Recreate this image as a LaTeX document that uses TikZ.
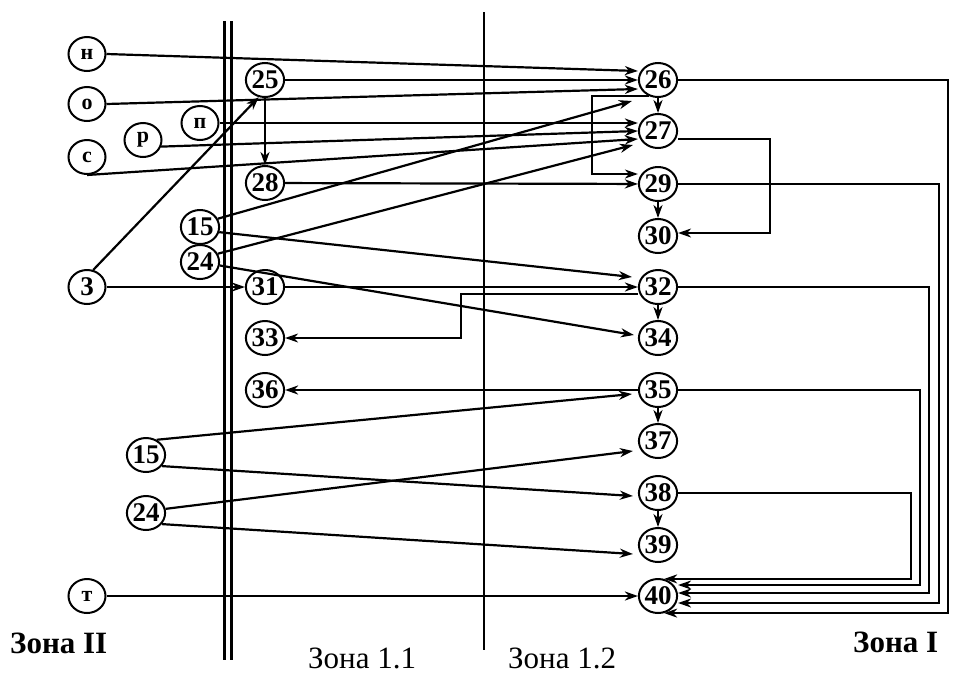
\documentclass[tikz,border=0pt]{standalone}
\usepackage{fontspec}
\setmainfont{Liberation Serif}
\usetikzlibrary{arrows.meta,shapes.geometric,calc}
\begin{document}
\begin{tikzpicture}[x=1pt,y=-1pt,
  nd/.style={draw,ellipse,line width=2pt,minimum width=37pt,minimum height=34pt,inner sep=0pt,font=\fontsize{27}{27}\selectfont\bfseries},
  ltr/.style={nd,font=\fontsize{22}{22}\selectfont\bfseries},
  arr/.style={line width=2.2pt,-{Stealth[length=13pt,width=9pt,inset=4pt]}},
  lp/.style={line width=1.6pt,-{Stealth[length=13pt,width=9pt,inset=4pt]}},
  zb/.style={font=\fontsize{31}{31}\selectfont\bfseries,anchor=base west,inner sep=0pt},
  zr/.style={font=\fontsize{31}{31}\selectfont,anchor=base west,inner sep=0pt}]
\useasboundingbox (0,0) rectangle (957,675);

% zone boundaries
\draw[line width=3pt] (224,21) -- (224,660);
\draw[line width=3pt] (231,21) -- (231,660);
\draw[line width=2.6pt] (484,12) -- (484,650);

% left nodes
\node[ltr] (nN) at (87,54) {н};
\node[ltr] (nO) at (87,104) {о};
\node[ltr] (nR) at (143,140) {р};
\node[ltr] (nP) at (200,123) {п};
\node[ltr] (nS) at (87,157) {с};
\node[nd] (n3) at (87,287) {3};
\node[nd] (a15) at (200,227) {15};
\node[nd] (a24) at (200,262) {24};
\node[nd] (b15) at (146,455) {15};
\node[nd] (b24) at (146,513) {24};
\node[ltr] (nT) at (87,596) {т};

% zone 1.1 nodes
\node[nd] (n25) at (265,80) {25};
\node[nd] (n28) at (265,183) {28};
\node[nd] (n31) at (265,287) {31};
\node[nd] (n33) at (265,338) {33};
\node[nd] (n36) at (265,390) {36};

% right column
\node[nd] (n26) at (658,80) {26};
\node[nd] (n27) at (658,131) {27};
\node[nd] (n29) at (658,184) {29};
\node[nd] (n30) at (658,236) {30};
\node[nd] (n32) at (658,287) {32};
\node[nd] (n34) at (658,338) {34};
\node[nd] (n35) at (658,390) {35};
\node[nd] (n37) at (658,441) {37};
\node[nd] (n38) at (658,493) {38};
\node[nd] (n39) at (658,545) {39};
\node[nd] (n40) at (658,596) {40};

% helper coordinates
\coordinate (k1) at (592,130);
\coordinate (k2) at (770,180);
\coordinate (k4) at (461,315);
\coordinate (r1) at (948,300);
\coordinate (r2) at (939,300);
\coordinate (r3) at (929,400);
\coordinate (r4) at (920,450);
\coordinate (r5) at (911,520);

% connectors into 26, 27
\draw[arr] (nN.east) -- ([yshift=9pt]n26.west);
\draw[arr] (n25) -- (n26);
\draw[arr] (nO.east) -- ([yshift=-9pt]n26.west);
\draw[arr] (a15.25) -- ([xshift=-6pt,yshift=-21pt]n26.west);
\draw[arr] (nP.east) -- ([yshift=8pt]n27.west);
\draw[arr] (nR.-20) -- (n27.west);
\draw[arr] (nS.south) -- ([yshift=-8pt]n27.west);
\draw[arr] (a24.25) -- ([xshift=-5pt,yshift=-14pt]n27.west);
\draw[arr] (n25) -- (n28);
\draw[arr] (n3.70) -- (n25.250);
\draw[arr] (n28) -- (n29);
\draw[lp] (n26.240) -| (k1) |- ([yshift=10pt]n29.west);
\draw[arr] (n26) -- (n27);
\draw[arr] (n29) -- (n30);
\draw[lp] ([yshift=-8pt]n27.east) -| (k2) |- ([yshift=3pt]n30.east);

% middle
\draw[arr] (n3) -- (n31);
\draw[arr] (n31) -- (n32);
\draw[arr] (a15.-15) -- ([xshift=-6pt,yshift=10pt]n32.west);
\draw[arr] (a24.-10) -- ([xshift=-4pt,yshift=3pt]n34.west);
\draw[lp] ([yshift=-7pt]n32.west) -| (k4) |- (n33.east);
\draw[arr] (n32) -- (n34);
\draw[arr] (n35) -- (n36);
\draw[arr] (b15.55) -- ([xshift=-6pt,yshift=-4pt]n35.west);
\draw[arr] (n35) -- (n37);
\draw[arr] (b24.12) -- ([xshift=-5pt,yshift=-10pt]n37.west);
\draw[arr] (b15.-35) -- ([xshift=-5pt,yshift=-3pt]n38.west);
\draw[arr] (n38) -- (n39);
\draw[arr] (b24.-35) -- ([xshift=-5pt,yshift=-9pt]n39.west);
\draw[arr] (nT) -- (n40);

% right loops into 40
\draw[lp] (n26.east) -| (r1) |- (n40.-70);
\draw[lp] (n29.east) -| (r2) |- ([yshift=-7pt]n40.east);
\draw[lp] (n32.east) -| (r3) |- ([yshift=3pt]n40.east);
\draw[lp] (n35.east) -| (r4) |- ([yshift=11pt]n40.east);
\draw[lp] (n38.east) -| (r5) |- (n40.70);

% zone labels
\node[zb] (z2) at (10,653) {Зона II};
\node[zr] (z11) at (308,668) {Зона 1.1};
\node[zr] (z12) at (508,668) {Зона 1.2};
\node[zb] (z1) at (853,652) {Зона I};
\end{tikzpicture}
\end{document}
